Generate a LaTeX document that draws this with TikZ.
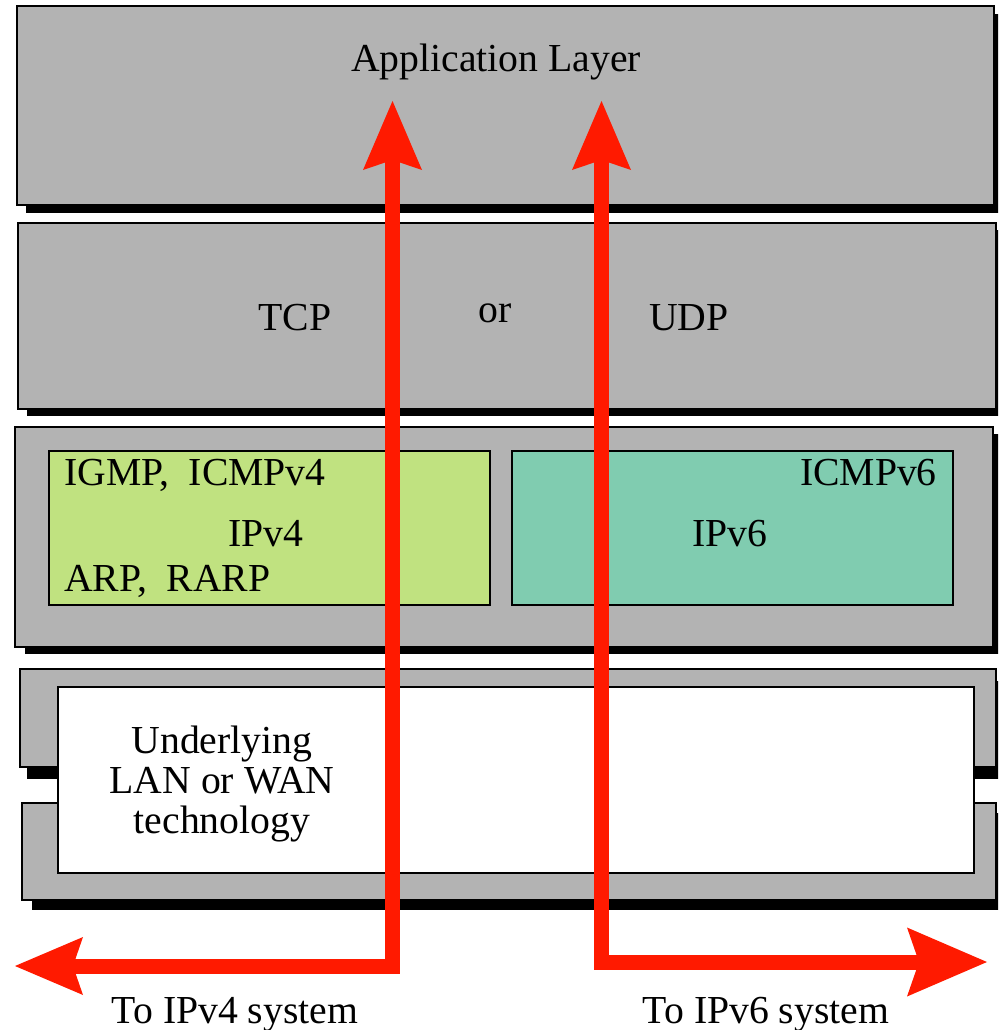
\documentclass[tikz,border=0pt]{standalone}
\usepackage{fontspec}
\setmainfont{Liberation Serif}
\usetikzlibrary{arrows.meta,shadows}
\definecolor{layergray}{RGB}{179,179,179}
\definecolor{vfourgreen}{RGB}{192,226,128}
\definecolor{vsixteal}{RGB}{128,204,176}
\definecolor{pathred}{RGB}{255,26,0}

\begin{document}
\begin{tikzpicture}[x=1pt,y=-1pt,
  box/.style={draw=black, line width=1.8pt, inner sep=0pt, outer sep=0pt, anchor=north west},
  layer/.style={box, fill=layergray},
  castshadow/.style 2 args={general shadow={shadow xshift=#1pt, shadow yshift=-#2pt, fill=black}},
  lbl/.style={inner sep=0pt, anchor=base, font=\fontsize{39.7}{40}\selectfont},
  route/.style={draw=pathred, line width=15pt, line join=miter, line cap=butt},
  fourroute/.style={route, arrows={Stealth[length=68pt, width=58pt, inset=10pt, line width=0pt]-Stealth[length=69pt, width=59pt, inset=10pt, line width=0pt]}},
  sixroute/.style={route, arrows={Stealth[length=69pt, width=59pt, inset=10pt, line width=0pt]-Stealth[length=80pt, width=69pt, inset=12pt, line width=0pt]}}]

\clip (0,0) rectangle (998,1030);

% protocol layers
\node[layer, castshadow={9}{8}, minimum width=977pt, minimum height=199pt] (app) at (17,6) {};
\node[layer, castshadow={9}{7}, minimum width=978pt, minimum height=186pt] (tcp) at (18,223) {};
\node[layer, castshadow={10}{7}, minimum width=978pt, minimum height=220pt] (ip) at (15,427) {};
\node[box, fill=vfourgreen, minimum width=441pt, minimum height=154pt] (vfour) at (49,451) {};
\node[box, fill=vsixteal, minimum width=441pt, minimum height=154pt] (vsix) at (512,451) {};

% network access layer: two gray slabs behind a white panel
\node[layer, castshadow={7}{12}, minimum width=976pt, minimum height=98pt] (lanA) at (20,669) {};
\node[layer, castshadow={10}{10}, minimum width=974pt, minimum height=97pt] (lanB) at (22,803) {};
\node[box, fill=white, minimum width=916pt, minimum height=186pt] (lan) at (58,687) {};

% labels
\node[lbl] (appname) at (496,72) {Application Layer};
\node[lbl] (tcpname) at (295,330) {TCP};
\node[lbl] (orname) at (495,322) {or};
\node[lbl] (udpname) at (689,330) {UDP};
\node[lbl, anchor=base west] (igmp) at (64,485) {IGMP,\ \ ICMPv4};
\node[lbl] (vfourname) at (266,546) {IPv4};
\node[lbl, anchor=base west] (arp) at (64,591) {ARP,\ \ RARP};
\node[lbl, anchor=base east] (icmpsix) at (937,485) {ICMPv6};
\node[lbl] (vsixname) at (730,546) {IPv6};
% the base of a multi-line node is the baseline of its last line
\node[lbl, align=center] (lanname) at (222,833) {Underlying\\LAN or WAN\\technology};
\node[lbl] (tofour) at (235,1023) {To IPv4 system};
\node[lbl] (tosix) at (766,1023) {To IPv6 system};

% data paths
\coordinate (fourtop) at (392.5,101);
\coordinate (fourbend) at (392.5,966);
\coordinate (fourend) at (15,966);
\coordinate (sixtop) at (601.5,101);
\coordinate (sixbend) at (601.5,962);
\coordinate (sixend) at (987,962);
\draw[fourroute] (fourend) -- (fourbend) -- (fourtop);
\draw[sixroute] (sixtop) -- (sixbend) -- (sixend);
\end{tikzpicture}
\end{document}
